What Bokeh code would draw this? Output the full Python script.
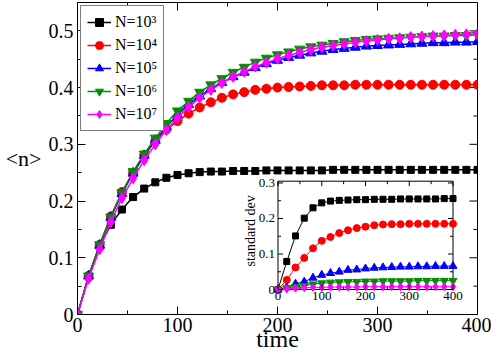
import math
from bokeh.plotting import figure
from bokeh.models import Range1d, FixedTicker, Legend, LegendItem
from bokeh.core.properties import value
from bokeh.embed import file_html
from bokeh.resources import INLINE

FONT = "Liberation Serif"

# ---------------- data ----------------
time_main = [0, 11.1, 22.2, 33.3, 44.4, 55.6, 66.7, 77.8, 88.9, 100,
             111.1, 122.2, 133.3, 144.4, 155.6, 166.7, 177.8, 188.9, 200,
             211.1, 222.2, 233.3, 244.4, 255.6, 266.7, 277.8, 288.9, 300,
             311.1, 322.2, 333.3, 344.4, 355.6, 366.7, 377.8, 388.9, 400]

n_1e3 = [0, .067, .121, .158, .185, .207, .222, .233, .241, .246,
         .249, .251, .252, .252, .253, .253, .253, .254, .254, .254,
         .254, .254, .254, .255, .255, .255, .255, .255, .255, .255,
         .255, .255, .255, .255, .255, .255, .255]
n_1e4 = [0, .068, .123, .173, .216, .250, .281, .306, .326, .341,
         .354, .365, .374, .382, .388, .392, .396, .398, .400, .401,
         .402, .403, .404, .404, .404, .405, .405, .405, .405, .405,
         .405, .405, .405, .405, .405, .405, .405]
n_1e5 = [0, .068, .122, .171, .213, .249, .280, .307, .331, .352,
         .370, .385, .398, .409, .419, .427, .435, .442, .448, .453,
         .457, .461, .464, .467, .469, .471, .473, .474, .475, .476,
         .477, .478, .479, .479, .480, .480, .481]
n_1e6 = [0, .068, .123, .172, .215, .252, .283, .311, .337, .359,
         .376, .392, .405, .416, .427, .436, .445, .452, .458, .463,
         .468, .472, .475, .478, .481, .483, .485, .486, .487, .488,
         .489, .490, .491, .491, .492, .492, .493]
n_1e7 = [0, .063, .115, .163, .205, .240, .272, .300, .325, .347,
         .366, .382, .396, .408, .419, .428, .437, .444, .451, .457,
         .462, .467, .471, .474, .477, .480, .482, .484, .486, .487,
         .489, .490, .491, .492, .493, .494, .495]

time_inset = [0, 20, 40, 60, 80, 100, 120, 140, 160, 180, 200,
              220, 240, 260, 280, 300, 320, 340, 360, 380, 400]
sd_1e3 = [0, .079, .151, .201, .230, .244, .249, .251, .252, .253, .253,
          .254, .254, .254, .255, .255, .255, .255, .255, .256, .256]
sd_1e4 = [0, .027, .062, .089, .116, .137, .148, .159, .167, .173, .177,
          .181, .183, .184, .184, .185, .185, .185, .185, .185, .185]
sd_1e5 = [0, .006, .016, .022, .033, .041, .046, .050, .055, .056, .059,
          .061, .062, .063, .064, .064, .065, .065, .066, .066, .066]
sd_1e6 = [0, .004, .008, .011, .015, .018, .020, .021, .022, .022, .023,
          .023, .024, .024, .024, .024, .025, .025, .025, .025, .025]
sd_1e7 = [0, .002, .004, .005, .006, .006, .007, .007, .007, .007, .008,
          .008, .008, .008, .008, .008, .008, .008, .008, .008, .008]

series_labels = ["N=10³", "N=10⁴", "N=10⁵", "N=10⁶", "N=10⁷"]
main_series = [n_1e3, n_1e4, n_1e5, n_1e6, n_1e7]
inset_series = [sd_1e3, sd_1e4, sd_1e5, sd_1e6, sd_1e7]

x_major = [0, 100, 200, 300, 400]
x_minor = [50, 150, 250, 350]
y_major = [0, 0.1, 0.2, 0.3, 0.4, 0.5]
y_major_labels = ["0", "0.1", "0.2", "0.3", "0.4", "0.5"]
y_minor = [0.05, 0.15, 0.25, 0.35, 0.45]

inset_x_major = [0, 100, 200, 300, 400]
inset_x_labels = ["0", "100", "200", "300", "400"]
inset_x_minor = [50, 150, 250, 350]
inset_y_major = [0, 0.1, 0.2, 0.3]
inset_y_labels = ["0", "0.1", "0.2", "0.3"]
inset_y_minor = [0.05, 0.15, 0.25]
inset_y_title = "standard dev"

# ---------------- styles ----------------
colors = ["#000000", "#ff0000", "#0000ff", "#008f00", "#ff00ff"]
markers = ["square", "circle", "triangle", "inverted_triangle", "diamond"]
main_sizes = [7, 9, 10, 10, 11]
inset_sizes = [6, 7, 8, 8, 8]

X0, X1 = 0, 400
Y0, Y1 = 0, 0.55

p = figure(frame_width=400, frame_height=312,
           x_range=Range1d(X0, X1), y_range=Range1d(Y0, Y1),
           output_backend="svg", toolbar_location=None,
           min_border_left=77, min_border_right=14,
           min_border_top=2, min_border_bottom=42,
           background_fill_color="white", border_fill_color="white")
p.xgrid.visible = False
p.ygrid.visible = False
p.outline_line_color = "black"
p.outline_line_width = 1


def style_axis(ax):
    ax.major_tick_in = 8
    ax.major_tick_out = 0
    ax.minor_tick_in = 4
    ax.minor_tick_out = 0
    ax.axis_line_color = "black"
    ax.major_tick_line_color = "black"
    ax.minor_tick_line_color = "black"
    ax.major_label_text_font = FONT
    ax.major_label_text_font_style = "normal"
    ax.major_label_text_color = "black"
    ax.major_label_text_font_size = "20px"


xa = p.xaxis[0]
ya = p.yaxis[0]
xa.ticker = FixedTicker(ticks=x_major, minor_ticks=x_minor)
ya.ticker = FixedTicker(ticks=y_major, minor_ticks=y_minor)
ya.major_label_overrides = dict(zip(y_major, y_major_labels))
style_axis(xa)
style_axis(ya)
xa.major_label_standoff = 3
xa.axis_label = "time"
xa.axis_label_text_font = FONT
xa.axis_label_text_font_style = "normal"
xa.axis_label_text_font_size = "24px"
xa.axis_label_text_color = "black"
xa.axis_label_standoff = -9
ya.major_label_standoff = 4
ya.axis_label = "<n>"
ya.axis_label_orientation = "horizontal"
ya.axis_label_text_font = FONT
ya.axis_label_text_font_style = "normal"
ya.axis_label_text_font_size = "22px"
ya.axis_label_text_color = "black"
ya.axis_label_standoff = 4

# mirrored ticks on top and right edges of the frame
mt = dict(line_color="black", line_width=1, length_units="screen")
p.ray(x=x_major, y=[Y1] * len(x_major), length=8, angle=-math.pi / 2, **mt)
p.ray(x=x_minor, y=[Y1] * len(x_minor), length=4, angle=-math.pi / 2, **mt)
p.ray(x=[X1] * len(y_major), y=y_major, length=8, angle=math.pi, **mt)
p.ray(x=[X1] * len(y_minor), y=y_minor, length=4, angle=math.pi, **mt)

# ---------------- main curves ----------------
items = []
for ys, lab, c, m, sz in zip(main_series, series_labels, colors, markers, main_sizes):
    l = p.line(time_main, ys, line_color=c, line_width=1.5)
    s = p.scatter(time_main, ys, marker=m, size=sz, fill_color=c, line_color=c)
    items.append(LegendItem(label=lab, renderers=[l, s]))

# ---------------- inset (own scales mapped into the frame) ----------------
box_x0, box_x1 = 200.5, 375.5      # inset frame, in main x units
box_y0, box_y1 = 0.044, 0.235      # inset frame, in main y units
ix0, ix1 = 0, 400
iy0, iy1 = 0, 0.305
sx = (box_x1 - box_x0) / (ix1 - ix0)
sy = (box_y1 - box_y0) / (iy1 - iy0)
p.extra_x_ranges = {"ix": Range1d(ix0 - (box_x0 - X0) / sx, ix1 + (X1 - box_x1) / sx)}
p.extra_y_ranges = {"iy": Range1d(iy0 - (box_y0 - Y0) / sy, iy1 + (Y1 - box_y1) / sy)}
R = dict(x_range_name="ix", y_range_name="iy")

p.quad(left=[ix0], right=[ix1], bottom=[iy0], top=[iy1],
       fill_color="white", line_color="black", line_width=1, **R)

for ys, c, m, sz in zip(inset_series, colors, markers, inset_sizes):
    p.line(time_inset, ys, line_color=c, line_width=1, **R)
    p.scatter(time_inset, ys, marker=m, size=sz, fill_color=c, line_color=c, **R)

tick_kw = dict(line_color="black", line_width=1, length_units="screen", **R)
p.ray(x=inset_x_major, y=[iy0] * len(inset_x_major), length=5, angle=math.pi / 2, **tick_kw)
p.ray(x=inset_x_minor, y=[iy0] * len(inset_x_minor), length=3, angle=math.pi / 2, **tick_kw)
p.ray(x=inset_x_major, y=[iy1] * len(inset_x_major), length=5, angle=-math.pi / 2, **tick_kw)
p.ray(x=inset_x_minor, y=[iy1] * len(inset_x_minor), length=3, angle=-math.pi / 2, **tick_kw)
p.ray(x=[ix0] * len(inset_y_major), y=inset_y_major, length=5, angle=0, **tick_kw)
p.ray(x=[ix0] * len(inset_y_minor), y=inset_y_minor, length=3, angle=0, **tick_kw)
p.ray(x=[ix1] * len(inset_y_major), y=inset_y_major, length=5, angle=math.pi, **tick_kw)
p.ray(x=[ix1] * len(inset_y_minor), y=inset_y_minor, length=3, angle=math.pi, **tick_kw)

p.text(x=inset_x_major, y=[iy0] * len(inset_x_major), text=inset_x_labels,
       text_font=value(FONT), text_font_size="13px", text_color="black",
       text_align="center", text_baseline="top", y_offset=2, **R)
p.text(x=[ix0] * len(inset_y_major), y=inset_y_major, text=inset_y_labels,
       text_font=value(FONT), text_font_size="13px", text_color="black",
       text_align="right", text_baseline="middle", x_offset=-3, **R)
# inset axis title, placed 28 px left of the inset frame
title_dx = 28 / (400 / (X1 - X0)) / sx
p.text(x=[ix0 - title_dx], y=[0.165], text=[inset_y_title],
       text_font=value(FONT), text_font_size="14px", text_color="black",
       text_align="center", text_baseline="middle", angle=math.pi / 2, **R)

# ---------------- legend ----------------
legend = Legend(items=items, location="top_left", margin=3, padding=6, spacing=3,
                glyph_width=24, glyph_height=20, label_height=20, label_standoff=4,
                label_text_font=FONT, label_text_font_size="16px",
                label_text_color="black",
                border_line_color="black", border_line_width=1,
                background_fill_color="white", background_fill_alpha=1)
p.add_layout(legend)

open("out.html", "w").write(file_html(p, INLINE))
